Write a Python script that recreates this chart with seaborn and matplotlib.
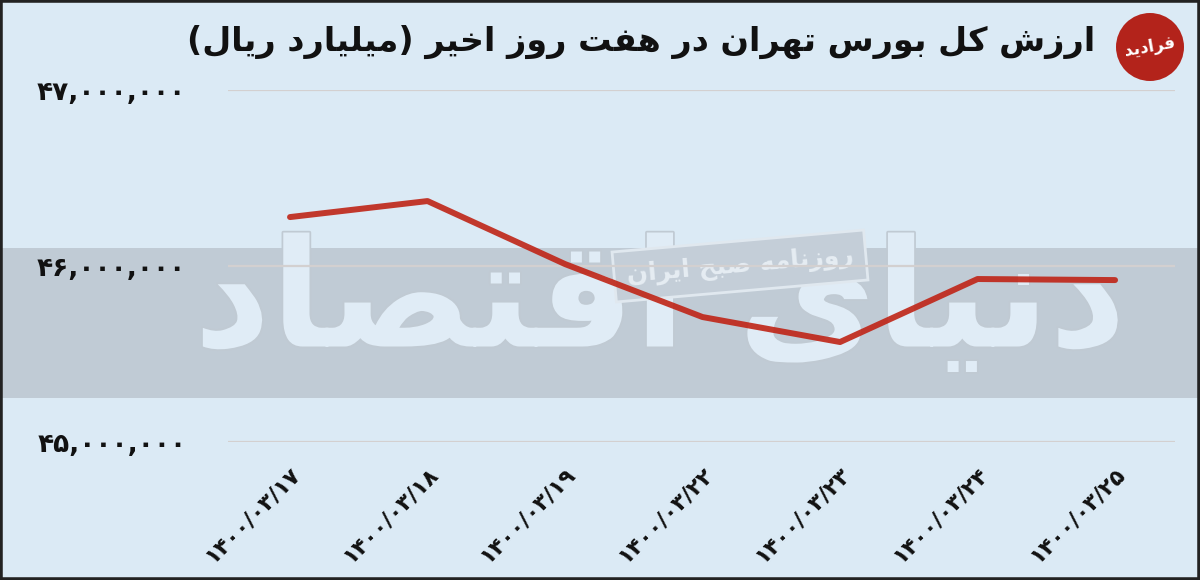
import matplotlib
matplotlib.use("Agg")
import matplotlib.pyplot as plt
import matplotlib.patheffects as pe
from matplotlib.patches import Rectangle, Circle
from matplotlib.transforms import ScaledTranslation
import pandas as pd
import seaborn as sns

# ------------------------------------------------------------------
# DATA (billion rials)
# ------------------------------------------------------------------
dates = ["۱۴۰۰/۰۳/۱۷", "۱۴۰۰/۰۳/۱۸", "۱۴۰۰/۰۳/۱۹", "۱۴۰۰/۰۳/۲۲",
         "۱۴۰۰/۰۳/۲۳", "۱۴۰۰/۰۳/۲۴", "۱۴۰۰/۰۳/۲۵"]
values = [46278000, 46369000, 46011000, 45710000, 45568000, 45926000, 45920000]
y_ticks = [45000000, 46000000, 47000000]
y_tick_labels = ["۴۵,۰۰۰,۰۰۰", "۴۶,۰۰۰,۰۰۰", "۴۷,۰۰۰,۰۰۰"]

title = "ارزش کل بورس تهران در هفت روز اخیر (میلیارد ریال)"
watermark = "دنیای اقتصاد"
stamp = "روزنامه صبح ایران"
logo = "فرادید"

BG = "#dbeaf5"
BAND = "#c0cbd5"
LINE = "#bf2416"

# ------------------------------------------------------------------
# tiny Persian shaper (matplotlib has no RTL / joining support)
# forms: isolated, final, initial, medial
# ------------------------------------------------------------------
FORMS = {
    "ا": ("\uFE8D", "\uFE8E", None, None),
    "ب": ("\uFE8F", "\uFE90", "\uFE91", "\uFE92"),
    "ت": ("\uFE95", "\uFE96", "\uFE97", "\uFE98"),
    "ح": ("\uFEA1", "\uFEA2", "\uFEA3", "\uFEA4"),
    "خ": ("\uFEA5", "\uFEA6", "\uFEA7", "\uFEA8"),
    "د": ("\uFEA9", "\uFEAA", None, None),
    "ر": ("\uFEAD", "\uFEAE", None, None),
    "ز": ("\uFEAF", "\uFEB0", None, None),
    "س": ("\uFEB1", "\uFEB2", "\uFEB3", "\uFEB4"),
    "ش": ("\uFEB5", "\uFEB6", "\uFEB7", "\uFEB8"),
    "ص": ("\uFEB9", "\uFEBA", "\uFEBB", "\uFEBC"),
    "ف": ("\uFED1", "\uFED2", "\uFED3", "\uFED4"),
    "ق": ("\uFED5", "\uFED6", "\uFED7", "\uFED8"),
    "ل": ("\uFEDD", "\uFEDE", "\uFEDF", "\uFEE0"),
    "م": ("\uFEE1", "\uFEE2", "\uFEE3", "\uFEE4"),
    "ن": ("\uFEE5", "\uFEE6", "\uFEE7", "\uFEE8"),
    "ه": ("\uFEE9", "\uFEEA", "\uFEEB", "\uFEEC"),
    "و": ("\uFEED", "\uFEEE", None, None),
    "ک": ("\uFB8E", "\uFB8F", "\uFB90", "\uFB91"),
    "ی": ("\uFBFC", "\uFBFD", "\uFBFE", "\uFBFF"),
}


def shape(text):
    out = []
    for i, ch in enumerate(text):
        if ch not in FORMS:
            out.append(ch)
            continue
        iso, fin, ini, med = FORMS[ch]
        prev = text[i - 1] if i > 0 else ""
        nxt = text[i + 1] if i + 1 < len(text) else ""
        a = prev in FORMS and FORMS[prev][2] is not None
        b = ini is not None and nxt in FORMS
        if a and b:
            out.append(med)
        elif a:
            out.append(fin)
        elif b:
            out.append(ini)
        else:
            out.append(iso)
    s = "".join(out)[::-1]
    return s.translate(str.maketrans("()", ")("))


# ------------------------------------------------------------------
# FIGURE
# ------------------------------------------------------------------
sns.set_theme(style="white")
plt.rcParams["font.family"] = ["DejaVu Sans"]

df = pd.DataFrame({"date": dates, "value": values})

fig = plt.figure(figsize=(12, 5.8), dpi=100, facecolor=BG)
W, H = 1200, 580

# grey watermark band + watermark text (behind the axes)
fig.patches.append(Rectangle((0, 1 - 398 / H), 1, 150 / H, transform=fig.transFigure,
                             facecolor=BAND, edgecolor="none", zorder=-3))
wm = fig.text(660 / W, 1 - 305 / H, shape(watermark), ha="center", va="center",
              fontsize=108, fontweight="bold", color="#e0ecf6", zorder=-2)
wm.set_path_effects([pe.withStroke(linewidth=2.5, foreground="#c0cad3")])
fig.text(740 / W, 1 - 266 / H, shape(stamp), ha="center", va="center", rotation=5,
         fontsize=18, fontweight="bold", color="#e6edf3", zorder=-1,
         bbox=dict(boxstyle="square,pad=0.5", facecolor="#c4ced8", edgecolor="#e0e8ef", lw=2))

ax = fig.add_axes([228 / W, 1 - 442 / H, (1175 - 228) / W, (442 - 90) / H])
ax.set_facecolor("none")

sns.lineplot(data=df, x="date", y="value", ax=ax, color=LINE, lw=4.3, alpha=0.9, sort=False)

ax.set_xlim(-0.451, 6.436)
ax.set_ylim(45000000, 47000000)
ax.set_yticks(y_ticks)
ax.set_yticklabels(y_tick_labels, fontsize=19, fontweight="bold", color="#111111")
ax.set_xticks(range(len(dates)))
ax.set_xticklabels(dates, fontsize=16, fontweight="bold", color="#111111",
                   rotation=45, ha="right", va="top", rotation_mode="anchor")
shift = ScaledTranslation(-10 / 100, 0, fig.dpi_scale_trans)
for lab in ax.get_xticklabels():
    lab.set_transform(lab.get_transform() + shift)
ax.tick_params(axis="y", length=0, pad=30)
ax.tick_params(axis="x", length=0, pad=15)
ax.set_xlabel("")
ax.set_ylabel("")
ax.grid(axis="y", color="#d3d0d0", lw=1.6)
ax.grid(axis="x", visible=False)
sns.despine(ax=ax, left=True, bottom=True)

# title
fig.text(1095 / W, 1 - 42 / H, shape(title), ha="right", va="center",
         fontsize=24, fontweight="bold", color="#111111")

# logo
fig.patches.append(Circle((1150 / 100, (H - 47) / 100), 0.34, transform=fig.dpi_scale_trans,
                          facecolor="#b3231b", edgecolor="none"))
fig.text(1150 / W, 1 - 47 / H, shape(logo), ha="center", va="center", rotation=10,
         fontsize=12, fontweight="bold", color="white")

# dark frame around the picture
fig.patches.append(Rectangle((0, 0), 1, 1, transform=fig.transFigure, fill=False,
                             edgecolor="#222222", lw=4))

fig.savefig("out.png", dpi=100, facecolor=BG)
